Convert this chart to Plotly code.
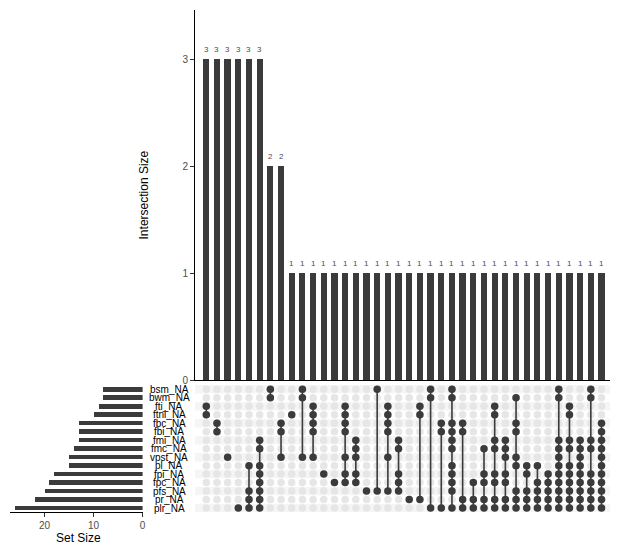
import plotly.graph_objects as go

# ---------------- data ----------------
sets = ["bsm_NA", "bwm_NA", "fti_NA", "ftni_NA", "fbc_NA", "fbi_NA", "fmi_NA",
        "fmc_NA", "vpst_NA", "pl_NA", "fpi_NA", "fpc_NA", "pfs_NA", "pr_NA", "plr_NA"]
set_sizes = [8, 8, 9, 10, 13, 13, 13, 14, 15, 15, 18, 19, 20, 22, 26]

intersection_sizes = [3, 3, 3, 3, 3, 3, 2, 2,
                      1, 1, 1, 1, 1, 1, 1, 1, 1, 1, 1, 1, 1, 1, 1,
                      1, 1, 1, 1, 1, 1, 1, 1, 1, 1, 1, 1, 1, 1, 1]

intersections = [
    ["fti_NA", "ftni_NA"],
    ["fbc_NA", "fbi_NA"],
    ["vpst_NA"],
    ["plr_NA"],
    ["pl_NA", "pfs_NA", "pr_NA", "plr_NA"],
    ["fmi_NA", "fmc_NA", "pl_NA", "fpi_NA", "fpc_NA", "pfs_NA", "pr_NA", "plr_NA"],
    ["bsm_NA", "bwm_NA"],
    ["fbc_NA", "fbi_NA", "vpst_NA"],
    ["ftni_NA"],
    ["bsm_NA", "bwm_NA", "vpst_NA"],
    ["fti_NA", "ftni_NA", "fbc_NA", "fbi_NA", "vpst_NA"],
    ["fpi_NA"],
    ["fpc_NA"],
    ["fti_NA", "ftni_NA", "fbc_NA", "fbi_NA", "vpst_NA", "fpi_NA", "fpc_NA"],
    ["fmi_NA", "fmc_NA", "vpst_NA", "fpi_NA", "fpc_NA"],
    ["pfs_NA"],
    ["bsm_NA", "pfs_NA"],
    ["fti_NA", "ftni_NA", "fbc_NA", "fbi_NA", "vpst_NA", "pfs_NA"],
    ["fmi_NA", "fmc_NA", "fpi_NA", "fpc_NA", "pfs_NA"],
    ["pr_NA"],
    ["fti_NA", "ftni_NA", "pr_NA"],
    ["bsm_NA", "bwm_NA", "plr_NA"],
    ["fbc_NA", "fbi_NA", "plr_NA"],
    ["bsm_NA", "bwm_NA", "fbc_NA", "fbi_NA", "fmi_NA", "fmc_NA", "pl_NA", "fpi_NA",
     "fpc_NA", "pfs_NA", "plr_NA"],
    ["fbc_NA", "fbi_NA", "pr_NA", "plr_NA"],
    ["fpc_NA", "pr_NA", "plr_NA"],
    ["fmc_NA", "fpi_NA", "fpc_NA", "pr_NA", "plr_NA"],
    ["fti_NA", "ftni_NA", "fmi_NA", "fmc_NA", "fpi_NA", "fpc_NA", "pr_NA", "plr_NA"],
    ["fmi_NA", "fmc_NA", "vpst_NA", "fpi_NA", "fpc_NA", "pr_NA", "plr_NA"],
    ["bwm_NA", "fbc_NA", "fbi_NA", "vpst_NA", "pl_NA", "pfs_NA", "pr_NA", "plr_NA"],
    ["pl_NA", "fpi_NA", "pfs_NA", "pr_NA", "plr_NA"],
    ["pl_NA", "fpc_NA", "pfs_NA", "pr_NA", "plr_NA"],
    ["fpi_NA", "fpc_NA", "pfs_NA", "pr_NA", "plr_NA"],
    ["bsm_NA", "bwm_NA", "fmi_NA", "fmc_NA", "vpst_NA", "pl_NA", "fpi_NA", "fpc_NA",
     "pfs_NA", "pr_NA", "plr_NA"],
    ["fti_NA", "ftni_NA", "fmi_NA", "fmc_NA", "pl_NA", "fpi_NA", "fpc_NA", "pfs_NA",
     "pr_NA", "plr_NA"],
    ["fmi_NA", "fmc_NA", "vpst_NA", "pl_NA", "fpi_NA", "fpc_NA", "pfs_NA", "pr_NA", "plr_NA"],
    ["bsm_NA", "bwm_NA", "fmi_NA", "fmc_NA", "fpi_NA", "fpc_NA", "pfs_NA", "pr_NA", "plr_NA"],
    ["fbc_NA", "fbi_NA", "fmi_NA", "fmc_NA", "vpst_NA", "pl_NA", "fpi_NA", "fpc_NA",
     "pfs_NA", "pr_NA", "plr_NA"],
]

# ---------------- styling ----------------
W, H = 623, 550
VF = 0.985  # vertical compensation observed in the rendering
FONT = "Liberation Sans, Arial, sans-serif"
DARK = "#3b3b3b"
INACTIVE = "#e6e6e6"
SHADE = "#f5f5f5"
TICKC = "#4d4d4d"


def px(x):
    return x / W


def py(y):
    return 1 - (y / VF) / H


ncol = len(intersection_sizes)
cols = list(range(ncol))
row_of = {s: i for i, s in enumerate(sets)}

fig = go.Figure()

# intersection bars
fig.add_trace(go.Bar(x=cols, y=intersection_sizes, width=0.58,
                     marker=dict(color=DARK, line=dict(width=0)),
                     xaxis="x", yaxis="y", hoverinfo="skip"))

# matrix background dots
bx, by = [], []
for c in cols:
    for r in range(len(sets)):
        bx.append(c)
        by.append(r)
fig.add_trace(go.Scatter(x=bx, y=by, mode="markers",
                         marker=dict(size=7.5, color=INACTIVE),
                         xaxis="x", yaxis="y2", hoverinfo="skip"))

# connecting lines
lx, ly = [], []
for c, members in enumerate(intersections):
    rows = [row_of[m] for m in members]
    if len(rows) > 1:
        lx += [c, c, None]
        ly += [min(rows), max(rows), None]
fig.add_trace(go.Scatter(x=lx, y=ly, mode="lines",
                         line=dict(color=DARK, width=1.6),
                         xaxis="x", yaxis="y2", hoverinfo="skip"))

# active dots
ax_, ay_ = [], []
for c, members in enumerate(intersections):
    for m in members:
        ax_.append(c)
        ay_.append(row_of[m])
fig.add_trace(go.Scatter(x=ax_, y=ay_, mode="markers",
                         marker=dict(size=7.5, color=DARK),
                         xaxis="x", yaxis="y2", hoverinfo="skip"))

# set size bars
fig.add_trace(go.Bar(x=set_sizes, y=list(range(len(sets))), orientation="h",
                     width=0.55, marker=dict(color=DARK, line=dict(width=0)),
                     xaxis="x2", yaxis="y2", hoverinfo="skip"))

shapes = []
for r in range(0, len(sets), 2):
    shapes.append(dict(type="rect", xref="paper", yref="y2",
                       x0=px(196), x1=px(613), y0=r - 0.5, y1=r + 0.5,
                       fillcolor=SHADE, line=dict(width=0), layer="below"))

annotations = []
for c, h in enumerate(intersection_sizes):
    annotations.append(dict(x=c, y=h, xref="x", yref="y", text=str(h),
                            showarrow=False, yanchor="bottom", yshift=3,
                            font=dict(size=8, color="#4a4a5a", family=FONT)))
for r, s in enumerate(sets):
    annotations.append(dict(x=px(170), y=r, xref="paper", yref="y2", text=s,
                            showarrow=False, xanchor="center", yanchor="middle",
                            font=dict(size=10, color="black", family=FONT)))
annotations.append(dict(x=px(145), y=py(194), xref="paper", yref="paper",
                        text="Intersection Size", textangle=-90, showarrow=False,
                        xanchor="center", yanchor="middle",
                        font=dict(size=12, color="black", family=FONT)))
annotations.append(dict(x=px(79), y=py(535), xref="paper", yref="paper",
                        text="Set Size", showarrow=False,
                        xanchor="center", yanchor="middle",
                        font=dict(size=12, color="black", family=FONT)))

fig.update_layout(
    width=W, height=H,
    margin=dict(l=0, r=0, t=0, b=0),
    paper_bgcolor="white", plot_bgcolor="rgba(0,0,0,0)",
    showlegend=False, bargap=0,
    font=dict(family=FONT),
    xaxis=dict(domain=[px(196), px(613)], range=[-1.05, 37.8], anchor="y",
               showgrid=False, zeroline=False, showticklabels=False, ticks="",
               showline=True, linecolor="black", linewidth=1),
    yaxis=dict(domain=[py(378), py(10)], range=[0, 3.46], anchor="x",
               tickvals=[0, 1, 2, 3], ticks="outside", ticklen=4, tickcolor="#333333",
               tickfont=dict(size=10, color=TICKC, family=FONT),
               showgrid=False, zeroline=False,
               showline=True, linecolor="black", linewidth=1),
    yaxis2=dict(domain=[py(509.2), py(382.8)], range=[14.5, -0.5], anchor="x",
                showgrid=False, zeroline=False, showticklabels=False, ticks="",
                showline=False),
    xaxis2=dict(domain=[px(10), px(143.3)], range=[27.05, 0], anchor="y2",
                tickvals=[0, 10, 20], ticks="outside", ticklen=4, tickcolor="#333333",
                tickfont=dict(size=10, color=TICKC, family=FONT),
                showgrid=False, zeroline=False,
                showline=True, linecolor="black", linewidth=1),
    shapes=shapes,
    annotations=annotations,
)

fig.write_html("out.html")
